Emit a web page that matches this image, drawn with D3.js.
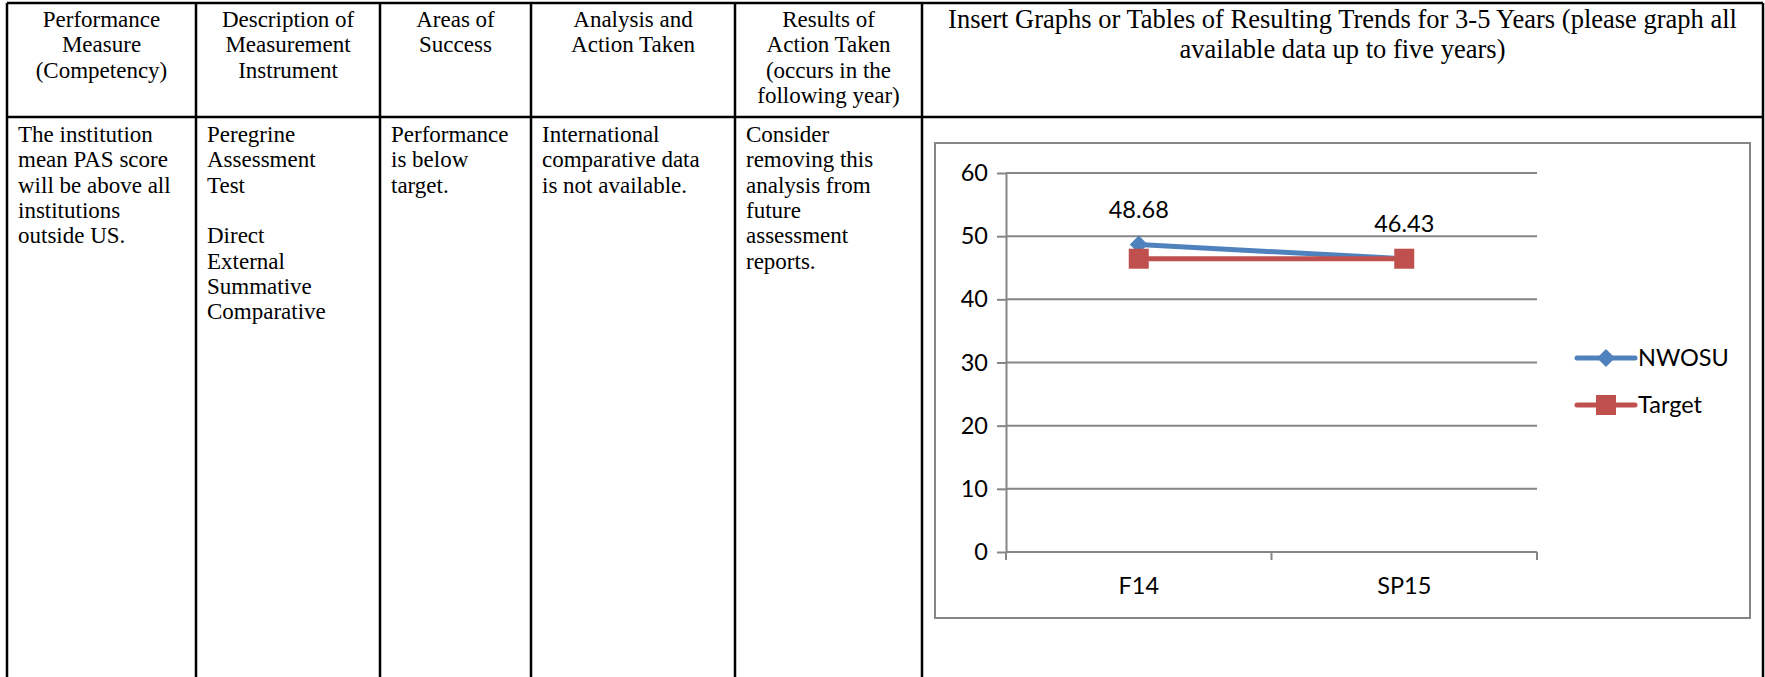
<!DOCTYPE html>
<html>
<head>
<meta charset="utf-8">
<script src="https://cdn.jsdelivr.net/npm/d3@7"></script>
<style>
  body { margin: 0; background: #fff; }
  svg { display: block; }
</style>
</head>
<body>
<svg id="chart" width="1765" height="677"></svg>
<script>
// data
const categories = ["F14", "SP15"];
const nwosu = [48.68, 46.43];
const target = [46.43, 46.43];
const yTicks = [0, 10, 20, 30, 40, 50, 60];
const seriesNames = ["NWOSU", "Target"];

const headerCells = [
  ["Performance", "Measure", "(Competency)"],
  ["Description of", "Measurement", "Instrument"],
  ["Areas of", "Success"],
  ["Analysis and", "Action Taken"],
  ["Results of", "Action Taken", "(occurs in the", "following year)"],
  ["Insert Graphs or Tables of Resulting Trends for 3-5 Years (please graph all", "available data up to five years)"]
];
const bodyCells = [
  ["The institution", "mean PAS score", "will be above all", "institutions", "outside US."],
  ["Peregrine", "Assessment", "Test", "", "Direct", "External", "Summative", "Comparative"],
  ["Performance", "is below", "target."],
  ["International", "comparative data", "is not available."],
  ["Consider", "removing this", "analysis from", "future", "assessment", "reports."]
];

const svg = d3.select("#chart");
const SERIF = "'Liberation Serif', 'Times New Roman', serif";
const SANS = "Lato, 'Open Sans', sans-serif";

// table
const colX = [7, 196, 380, 531, 735, 922, 1763];
const tableTop = 3, headerBottom = 117, lineH = 25.3;

const gTable = svg.append("g");
gTable.selectAll("line.v").data(colX).join("line")
  .attr("x1", d => d).attr("x2", d => d)
  .attr("y1", tableTop).attr("y2", 677)
  .attr("stroke", "#000").attr("stroke-width", 2.5);
gTable.selectAll("line.h").data([tableTop, headerBottom]).join("line")
  .attr("x1", colX[0]).attr("x2", colX[colX.length - 1])
  .attr("y1", d => d).attr("y2", d => d)
  .attr("stroke", "#000").attr("stroke-width", 2.5);

headerCells.forEach((lines, i) => {
  const cx = (colX[i] + colX[i + 1]) / 2;
  const last = i === headerCells.length - 1;
  const fs = last ? 26.5 : 23;
  const lh = last ? 30.4 : lineH;
  gTable.append("text")
    .attr("font-family", SERIF).attr("font-size", fs)
    .attr("text-anchor", "middle").attr("fill", "#000")
    .selectAll("tspan").data(lines).join("tspan")
    .attr("x", cx).attr("y", (d, j) => (last ? 28 : 27) + j * lh)
    .text(d => d);
});

bodyCells.forEach((lines, i) => {
  gTable.append("text")
    .attr("font-family", SERIF).attr("font-size", 23)
    .attr("fill", "#000")
    .selectAll("tspan").data(lines).join("tspan")
    .attr("x", colX[i] + 11).attr("y", (d, j) => 142 + j * lineH)
    .text(d => d);
});

// chart
svg.append("rect")
  .attr("x", 935).attr("y", 143).attr("width", 815).attr("height", 475)
  .attr("fill", "#fff").attr("stroke", "#868686").attr("stroke-width", 2);

const x = d3.scaleBand().domain(categories).range([1006, 1537]);
const y = d3.scaleLinear().domain([0, 60]).range([552, 173]);
const grey = "#868686";

const gGrid = svg.append("g");
gGrid.selectAll("line").data(yTicks).join("line")
  .attr("x1", 1006).attr("x2", 1537)
  .attr("y1", d => y(d)).attr("y2", d => y(d))
  .attr("stroke", grey).attr("stroke-width", 2);

const yAxis = svg.append("g")
  .attr("transform", "translate(1006,0)")
  .call(d3.axisLeft(y).tickValues(yTicks).tickSizeInner(9).tickSizeOuter(0).tickPadding(9));
yAxis.select(".domain").attr("stroke", grey).attr("stroke-width", 2);
yAxis.selectAll(".tick line").attr("stroke", grey).attr("stroke-width", 2);
yAxis.selectAll(".tick text")
  .attr("font-family", SANS).attr("font-size", 23.5).attr("fill", "#000");

const xAxis = svg.append("g")
  .attr("transform", "translate(0,552)")
  .call(d3.axisBottom(x).tickSize(0).tickPadding(25));
xAxis.select(".domain").remove();
xAxis.selectAll(".tick text")
  .attr("font-family", SANS).attr("font-size", 23.5).attr("fill", "#000");

const bounds = categories.map(c => x(c)).concat([x(categories[categories.length - 1]) + x.bandwidth()]);
svg.append("g").selectAll("line").data(bounds).join("line")
  .attr("x1", d => d).attr("x2", d => d)
  .attr("y1", 552).attr("y2", 560)
  .attr("stroke", grey).attr("stroke-width", 2);

const cx = c => x(c) + x.bandwidth() / 2;
const line = d3.line().x(d => cx(d.c)).y(d => y(d.v));
const blue = "#4F81BD", red = "#C0504D";

function diamond(g, px, py) {
  const r = 9;
  g.append("path")
    .attr("d", `M${px},${py - r}L${px + r},${py}L${px},${py + r}L${px - r},${py}Z`)
    .attr("fill", blue);
}
function square(g, px, py) {
  g.append("rect")
    .attr("x", px - 10).attr("y", py - 10).attr("width", 20).attr("height", 20)
    .attr("fill", red);
}

const nwosuPts = categories.map((c, i) => ({ c, v: nwosu[i] }));
const targetPts = categories.map((c, i) => ({ c, v: target[i] }));

const gSeries = svg.append("g");
gSeries.append("path").attr("d", line(nwosuPts))
  .attr("fill", "none").attr("stroke", blue).attr("stroke-width", 5);
nwosuPts.forEach(p => diamond(gSeries, cx(p.c), y(p.v)));
gSeries.append("path").attr("d", line(targetPts))
  .attr("fill", "none").attr("stroke", red).attr("stroke-width", 5);
targetPts.forEach(p => square(gSeries, cx(p.c), y(p.v)));

svg.append("g").selectAll("text").data(nwosuPts).join("text")
  .attr("x", d => cx(d.c)).attr("y", d => y(d.v) - 27)
  .attr("text-anchor", "middle")
  .attr("font-family", SANS).attr("font-size", 23.5).attr("fill", "#000")
  .text(d => d3.format(".2f")(d.v));

// legend
const legendY = [358, 405];
const gLegend = svg.append("g");
seriesNames.forEach((name, i) => {
  const col = i === 0 ? blue : red;
  gLegend.append("line")
    .attr("x1", 1577).attr("x2", 1635)
    .attr("y1", legendY[i]).attr("y2", legendY[i])
    .attr("stroke", col).attr("stroke-width", 5).attr("stroke-linecap", "round");
  if (i === 0) diamond(gLegend, 1606, legendY[i]);
  else square(gLegend, 1606, legendY[i]);
  gLegend.append("text")
    .attr("x", 1638).attr("y", legendY[i]).attr("dy", "0.35em")
    .attr("font-family", SANS).attr("font-size", 23.5).attr("fill", "#000")
    .text(name);
});
</script>
</body>
</html>
